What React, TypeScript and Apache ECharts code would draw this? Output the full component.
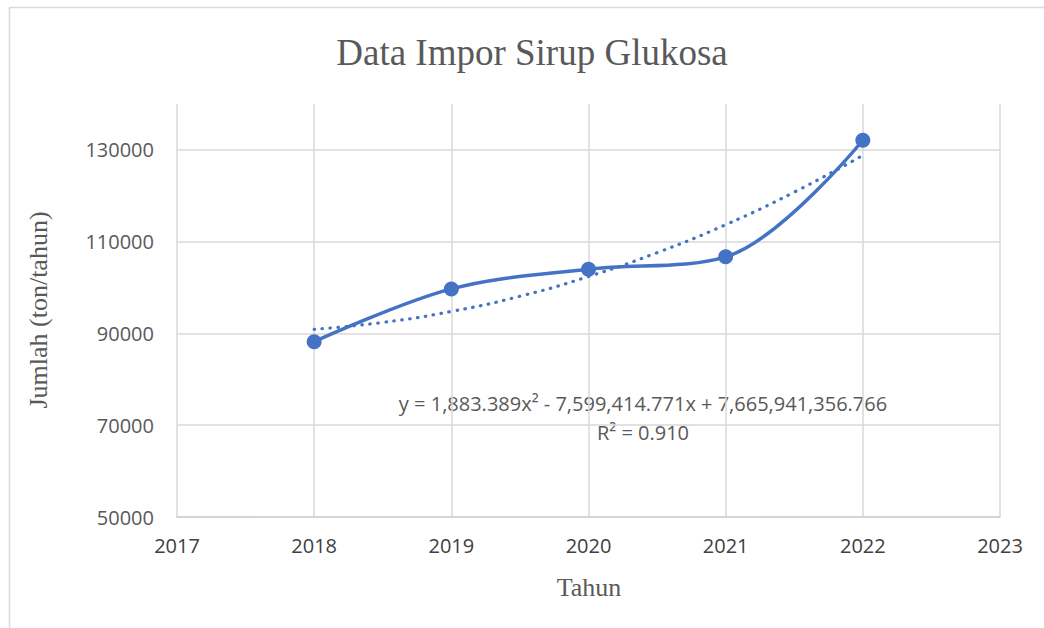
import React, { useEffect, useRef } from "react";
import * as echarts from "echarts";

const years = [2018, 2019, 2020, 2021, 2022];
const imports = [88200, 99700, 104000, 106700, 132100];
const trendYears = [2018, 2018.5, 2019, 2019.5, 2020, 2020.5, 2021, 2021.5, 2022];
const trendValues = [90900, 92400, 94800, 98100, 102400, 107600, 113700, 120800, 128800];
const yTicks = [50000, 70000, 90000, 110000, 130000];

const titleText = "Data Impor Sirup Glukosa";
const xTitle = "Tahun";
const yTitle = "Jumlah (ton/tahun)";
const equationText = "y = 1,883.389x² - 7,599,414.771x + 7,665,941,356.766";
const r2Text = "R² = 0.910";

export default function App() {
  const ref = useRef<HTMLDivElement>(null);
  useEffect(() => {
    document.body.style.margin = "0";
    if (!ref.current) return;
    const chart = echarts.init(ref.current, undefined, { renderer: "svg" });
    const blue = "#4472C4";
    chart.setOption({
      animation: false,
      backgroundColor: "#ffffff",
      grid: { left: 177, right: 44, top: 104, bottom: 111 },
      xAxis: {
        type: "value",
        min: 2017,
        max: 2023,
        interval: 1,
        axisLine: { show: true, lineStyle: { color: "#d0d0d0", width: 1.5 } },
        axisTick: { show: false },
        axisLabel: {
          color: "#404040",
          fontFamily: "Open Sans",
          fontSize: 20,
          margin: 18,
          formatter: (v: number) => String(v),
        },
        splitLine: { show: true, lineStyle: { color: "#d9d9d9", width: 1.5 } },
      },
      yAxis: {
        type: "value",
        min: yTicks[0],
        max: 140000,
        interval: 20000,
        axisLine: { show: false },
        axisTick: { show: false },
        axisLabel: {
          color: "#595959",
          fontFamily: "Open Sans",
          fontSize: 20,
          margin: 23,
          formatter: (v: number) => (yTicks.includes(v) ? String(v) : ""),
        },
        splitLine: {
          show: true,
          lineStyle: {
            color: ["#d9d9d9", "#d9d9d9", "#d9d9d9", "#d9d9d9", "#d9d9d9", "rgba(0,0,0,0)"],
            width: 1.5,
          },
        },
      },
      series: [
        {
          type: "line",
          data: years.map((y, i) => [y, imports[i]]),
          smooth: 0.35,
          symbol: "circle",
          symbolSize: 15,
          itemStyle: { color: blue },
          lineStyle: { color: blue, width: 3.5 },
          z: 2,
        },
        {
          type: "line",
          data: trendYears.map((y, i) => [y, trendValues[i]]),
          smooth: true,
          symbol: "none",
          lineStyle: { color: blue, width: 3.2, type: [0.5, 7.5], cap: "round" },
          z: 3,
        },
      ],
      graphic: [
        {
          type: "rect",
          shape: { x: 9.5, y: 7.5, width: 1100, height: 700 },
          style: { fill: "none", stroke: "#d9d9d9", lineWidth: 1.5 },
          silent: true,
        },
        {
          type: "text",
          x: 532,
          y: 52,
          style: {
            text: titleText,
            font: "37px 'Liberation Serif'",
            fill: "#595959",
            textAlign: "center",
            textVerticalAlign: "middle",
          },
        },
        {
          type: "text",
          x: 589,
          y: 587,
          style: {
            text: xTitle,
            font: "26px 'Liberation Serif'",
            fill: "#595959",
            textAlign: "center",
            textVerticalAlign: "middle",
          },
        },
        {
          type: "text",
          x: 38,
          y: 310,
          rotation: Math.PI / 2,
          style: {
            text: yTitle,
            font: "26px 'Liberation Serif'",
            fill: "#595959",
            textAlign: "center",
            textVerticalAlign: "middle",
          },
        },
        {
          type: "text",
          x: 643,
          y: 403,
          style: {
            text: equationText,
            font: "20px 'Open Sans'",
            fill: "#595959",
            textAlign: "center",
            textVerticalAlign: "middle",
          },
        },
        {
          type: "text",
          x: 643,
          y: 432,
          style: {
            text: r2Text,
            font: "20px 'Open Sans'",
            fill: "#595959",
            textAlign: "center",
            textVerticalAlign: "middle",
          },
        },
      ],
    });
    return () => chart.dispose();
  }, []);
  return <div ref={ref} style={{ width: 1044, height: 628 }} />;
}
